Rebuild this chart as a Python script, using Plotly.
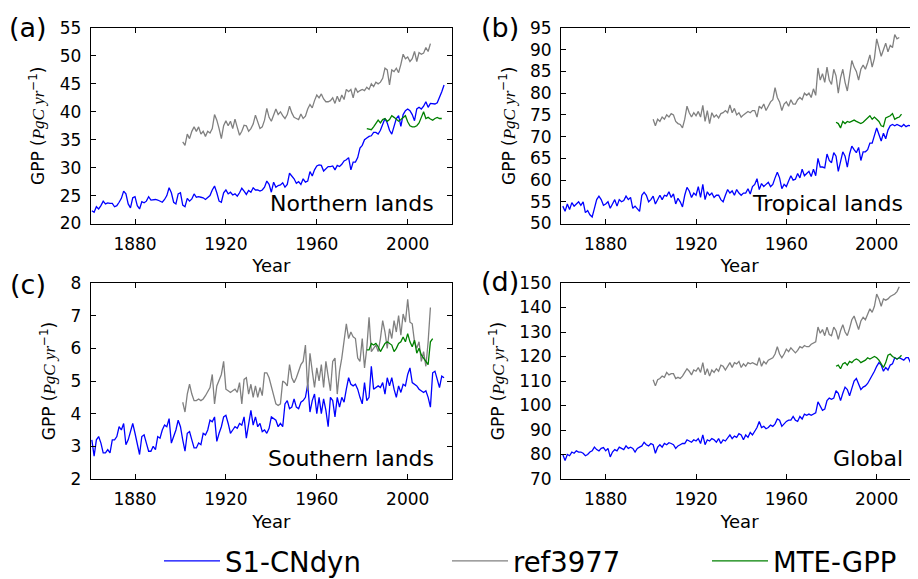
import plotly.graph_objects as go

# ---------------- data ----------------
BLUE_START = 1861
GRAY_START = 1901
GREEN_START = 1982

a_blue = [22.3, 22.0, 23.0, 22.6, 23.2, 24.0, 23.5, 23.7, 23.6, 23.6,
          23.0, 23.2, 23.8, 24.5, 25.8, 25.3, 23.5, 22.8, 24.6, 24.8,
          23.2, 22.6, 23.9, 23.7, 24.0, 24.8, 24.2, 24.3, 24.3, 24.2,
          24.0, 23.8, 24.3, 25.0, 26.4, 25.5, 23.8, 23.5, 25.3, 25.5,
          23.3, 23.0, 24.5, 24.0, 24.4, 25.3, 24.7, 24.8, 24.7, 24.6,
          24.3, 24.6, 25.0, 26.0, 26.7, 25.5, 24.0, 23.8, 25.5, 26.0,
          25.3, 25.6, 25.1, 25.3, 24.9, 25.5, 26.3, 25.8, 25.2, 25.9,
          25.6, 26.4, 26.0, 26.0, 25.8, 26.0, 26.5, 27.6, 27.0, 25.6,
          27.4, 26.5, 26.8, 26.9, 27.3, 26.5, 27.0, 29.0, 28.5, 28.0,
          27.2, 27.5, 27.0, 28.0, 27.4, 27.6, 29.3, 28.5, 29.6, 30.3,
          30.5, 30.4, 29.4, 29.8, 30.2, 30.2, 30.3, 29.6, 30.4, 30.2,
          30.6, 31.2, 31.4, 31.8, 29.6, 31.0, 31.0, 31.8, 33.5, 34.0,
          35.0, 35.3, 35.6, 35.7, 36.3, 36.3, 36.0, 36.7, 37.6, 38.8,
          38.0, 36.7, 36.0, 37.4, 38.8, 39.3, 37.4, 39.5, 40.2, 40.5,
          40.2, 39.5, 38.4, 40.5, 40.8, 40.5, 41.0, 41.8, 40.8, 41.5,
          41.5, 41.4, 41.6, 42.5, 43.6, 44.8]
a_gray = [34.6, 34.0, 36.0, 35.2, 36.5, 37.3, 36.5, 37.3, 36.0, 36.5,
          35.6, 36.5, 36.2, 37.0, 39.5, 38.5, 37.0, 35.2, 37.5, 38.4,
          37.5, 38.3, 37.0, 38.7, 37.2, 35.8, 36.5, 37.6, 37.5, 36.5,
          37.0, 37.8, 39.4, 38.0, 37.0, 37.3, 38.5, 40.6, 39.0, 38.3,
          39.5, 40.5, 39.5, 40.0, 39.3, 38.8, 39.5, 41.0, 39.8, 39.0,
          38.8, 38.6, 39.6, 38.8, 39.2, 40.5, 41.3, 40.7, 42.0, 43.0,
          42.5, 43.2, 42.3, 41.8, 41.8, 42.0, 42.5, 41.5, 42.8, 41.8,
          43.0, 42.2, 44.0, 43.6, 44.0, 42.5, 44.3, 43.5, 43.8, 44.0,
          43.8, 44.4, 44.0, 45.0, 44.5, 45.3, 45.0, 45.3, 46.0, 47.8,
          47.5, 44.8, 47.5, 47.2, 47.8, 47.0, 48.5, 50.3, 49.5, 49.8,
          49.0, 49.5, 50.8, 49.0, 50.6, 50.3, 50.5, 51.5, 50.8, 52.2]
a_green = [37.0, 36.9, 36.8, 37.3, 37.8, 38.5, 38.0, 38.6, 38.8, 38.3,
           38.6, 39.3, 39.0, 38.6, 38.3, 38.6, 38.9, 39.3, 38.2, 37.5,
           37.3, 37.3, 37.5, 38.0, 39.0, 40.0, 38.8, 39.0, 38.7, 38.5,
           38.8, 39.0, 38.8, 38.8]

b_blue = [54.0, 52.8, 54.5, 53.2, 54.8, 54.0, 54.5, 55.0, 54.2, 55.0,
          52.5, 53.0, 52.0, 51.5, 53.5, 55.5, 56.3, 55.5, 54.2, 54.5,
          55.0, 53.5, 54.5, 55.5, 54.0, 55.5, 55.0, 55.3, 56.3, 55.5,
          56.0, 53.5, 54.0, 53.5, 52.8, 56.5, 57.2, 56.5, 55.0, 55.5,
          56.3, 54.5, 55.5, 56.5, 55.5, 56.5, 56.3, 57.3, 56.0, 56.8,
          54.5, 55.8, 55.0, 53.8, 56.5, 58.3, 57.5, 56.0, 57.0, 56.5,
          58.5, 56.0, 59.0, 55.5, 57.3, 56.5, 57.0, 56.0, 56.5, 56.5,
          55.5, 55.0, 56.5, 57.8, 57.0, 57.5, 56.5, 57.8, 57.0, 56.5,
          57.0, 57.0, 58.0, 56.8, 58.5, 59.0, 60.3, 57.8, 59.2, 58.5,
          59.0, 59.5, 58.5, 59.0, 60.5, 61.8, 60.5, 58.0, 59.0, 58.5,
          59.8, 61.0, 60.0, 60.2, 61.5, 60.5, 62.5, 61.0, 61.5, 62.0,
          60.8, 62.5, 61.0, 65.0, 63.0, 63.0, 62.8, 66.0, 64.5, 64.0,
          66.3, 65.5, 62.0, 64.5, 66.5, 65.5, 63.0, 66.0, 67.8, 67.0,
          66.3, 67.5, 64.5, 66.5, 66.5, 67.0, 68.5, 68.5, 70.0, 72.0,
          70.5, 69.0, 70.8, 69.5, 71.5, 72.5, 72.8, 72.5, 72.8, 72.5,
          72.3, 72.8, 72.3, 72.6, 72.5, 69.5, 71.0]
b_gray = [74.0, 72.5, 74.0, 73.5, 74.5, 74.0, 75.0, 74.5, 75.3, 75.0,
          73.5, 73.0, 72.8, 72.0, 74.0, 77.0, 75.5, 74.5, 75.5, 74.8,
          75.8, 74.5, 77.2, 73.5, 76.0, 73.0, 75.5, 74.5, 75.0, 74.3,
          75.3, 75.5, 76.0, 75.5, 77.3, 75.5, 76.5, 75.0, 75.5, 74.5,
          75.0, 75.5, 75.8, 75.5, 76.0, 76.0, 74.5, 77.0, 76.5, 77.5,
          76.0, 77.0, 78.0, 78.5, 81.3, 79.0, 78.0, 76.0, 77.5, 78.0,
          77.0, 78.5, 77.5, 77.5, 78.5, 79.0, 78.5, 80.0, 79.5, 80.0,
          79.0, 81.0, 79.5, 85.8, 83.0, 84.5, 82.5, 86.0, 83.0, 82.0,
          85.5, 84.0, 80.0, 83.5, 85.5, 82.5, 80.5, 84.0, 87.5, 86.0,
          85.0, 83.0, 85.5, 86.5, 85.5, 87.0, 88.8, 86.0, 88.0, 92.5,
          90.5, 88.5, 90.0, 91.5, 89.5, 91.0, 90.5, 93.5, 92.5, 92.8]
b_green = [73.3, 73.0, 72.0, 73.5, 73.0, 73.5, 73.3, 73.5, 73.8, 73.5,
           73.2, 73.0, 73.3, 73.8, 74.2, 74.8, 74.0, 74.5, 74.0, 73.5,
           72.5, 72.3, 74.3, 74.5, 74.8, 75.3, 74.0, 74.3, 74.5, 75.2]

c_blue = [3.2, 2.7, 3.2, 3.3, 3.1, 2.8, 2.8, 2.9, 2.8, 3.2,
          3.2, 3.3, 3.6, 3.5, 3.7, 3.05, 3.2, 3.5, 3.7, 3.4,
          3.1, 2.75, 3.3, 3.35, 3.1, 2.85, 2.85, 3.0, 2.9, 3.3,
          3.25, 3.5, 3.65, 3.6, 3.85, 3.1, 3.3, 3.5, 3.8, 3.6,
          3.2, 2.85, 3.4, 3.45, 3.2, 2.95, 2.95, 3.1, 3.05, 3.4,
          3.35, 3.5, 3.8, 3.75, 3.9, 3.15, 3.4, 3.6, 3.9, 3.95,
          3.7, 3.4, 3.5, 3.6, 3.55, 3.7, 3.65, 3.9, 3.25, 3.7,
          4.1, 3.65, 3.9, 3.6, 3.7, 3.45, 3.5, 3.4, 3.55, 3.9,
          3.85, 3.8, 3.6, 3.7, 3.6, 4.3, 4.4, 4.15, 4.2, 4.45,
          4.2, 4.15, 4.35, 4.4, 4.5, 4.9, 4.05, 4.4, 4.6, 4.0,
          4.5, 4.0, 4.45, 4.1, 3.6, 4.5, 4.4, 3.9, 4.5, 4.2,
          4.5, 4.35, 4.75, 5.1, 4.9, 4.85, 4.9, 4.75, 4.5, 4.3,
          4.95, 4.4, 4.5, 5.45, 4.75, 4.8, 4.85, 4.8, 4.95, 4.6,
          5.1, 4.85, 5.1, 4.75, 4.5, 4.85, 4.65, 4.9, 4.85, 5.2,
          5.4, 4.95, 4.9, 4.85, 4.75, 4.7, 4.65, 4.7, 4.5, 4.2,
          5.25, 5.3, 5.0, 4.8, 5.15, 5.1]
c_gray = [4.35, 4.05, 4.6, 4.9, 4.6, 4.4, 4.4, 4.45, 4.4, 4.45,
          4.55, 4.7, 4.8, 5.2, 4.3, 4.85, 5.0, 5.2, 5.6, 4.75,
          4.7, 4.65, 4.7, 4.75, 4.65, 4.95, 4.3, 5.05, 5.1, 4.6,
          4.9, 4.5, 4.85, 4.5, 4.8, 4.55, 5.25, 5.25, 5.1, 4.8,
          4.5, 4.3, 4.25, 4.3, 5.0, 4.95, 4.85, 5.5, 5.1, 4.95,
          5.1, 5.3, 5.5, 5.6, 6.1, 4.7, 5.85, 5.3, 4.8, 5.4,
          5.0, 5.5, 4.8, 5.6, 5.2, 4.7, 5.6, 5.7, 4.6, 5.3,
          5.7, 6.3, 6.75, 6.3, 6.5, 6.35, 6.3, 5.7, 5.6, 6.3,
          5.4, 6.0, 6.95, 5.9, 6.0, 6.1, 5.9, 6.3, 6.85, 6.5,
          6.0, 6.6, 6.3, 6.85, 6.5, 7.0, 6.4, 7.05, 6.8, 7.5,
          6.8, 6.75, 6.2, 6.0, 6.2, 5.6, 5.9, 5.45, 6.2, 7.25]
c_green = [5.95, 5.95, 6.15, 6.1, 6.15, 6.05, 5.9, 6.05, 6.15, 6.2,
           6.15, 6.1, 5.9, 6.0, 6.15, 6.2, 6.35, 6.2, 6.45, 6.2,
           6.05, 6.25, 5.85, 6.0, 5.8, 5.7, 5.6, 5.5, 6.2, 6.3]

d_blue = [80.0, 77.5, 80.0, 79.5, 81.0, 80.5, 81.5, 81.0, 81.0, 80.5,
          79.5, 80.0, 81.0, 81.5, 83.0, 82.0, 81.5, 82.5, 82.8, 81.5,
          82.5, 79.0, 81.0, 82.0, 81.5, 83.0, 82.5, 82.0, 83.5, 82.5,
          83.0, 82.5, 81.0, 82.5, 83.0, 83.5, 85.0, 84.0, 83.5, 84.5,
          84.0, 80.5, 83.0, 84.0, 83.0, 84.5, 84.0, 84.8, 84.5, 84.0,
          82.5, 83.5, 84.0, 84.5, 84.5, 86.0, 85.5, 85.0, 86.0, 85.5,
          86.5, 84.5, 88.0, 84.0, 86.0, 85.5, 86.5, 86.0, 85.0, 86.5,
          84.5, 86.0, 85.5, 87.0, 88.0, 86.5, 87.5, 87.0, 88.5, 88.0,
          86.0, 88.0, 87.0, 89.0, 88.0, 89.5, 91.0, 93.5, 91.0, 91.5,
          90.5, 91.0, 92.0, 91.5, 92.5, 94.5, 94.0, 91.5, 92.5, 93.5,
          94.0, 94.0, 95.5, 94.0, 93.5, 95.5, 94.5, 96.5, 96.0, 96.5,
          96.0, 96.5, 97.0, 101.5, 99.5, 98.0, 98.5, 102.0, 103.0, 102.5,
          103.0, 106.0, 105.0, 102.0, 105.0, 107.5, 106.5, 104.0, 107.0, 110.0,
          111.0, 109.0, 106.5, 107.5, 108.0, 109.0, 110.5, 112.0, 114.0, 116.0,
          117.5, 116.5, 114.0, 115.5, 114.5, 116.5, 117.0, 119.5, 119.0, 119.5,
          119.0, 118.5, 119.5, 119.5, 117.5, 119.5, 121.0]
d_gray = [110.5, 108.0, 110.5, 111.0, 112.0, 111.5, 113.5, 112.5, 113.0, 113.0,
          111.0, 111.5, 111.0, 112.0, 113.5, 115.0, 114.0, 112.5, 114.5, 114.0,
          115.5, 113.5, 117.5, 112.5, 115.0, 112.0, 114.5, 113.5, 115.0, 114.0,
          116.5, 116.0, 114.5, 116.0, 117.5, 115.5, 117.5, 117.0, 118.0, 115.5,
          117.0, 116.0, 117.5, 117.0, 117.5, 117.0, 116.5, 119.5, 116.0, 118.0,
          117.0, 118.5, 119.0, 119.5, 121.0, 124.0, 121.0, 119.5, 121.0, 123.0,
          122.0, 123.5, 122.5, 121.5, 122.5, 124.0, 123.5, 124.5, 124.0, 124.0,
          125.0, 125.5, 126.0, 132.0, 129.5, 131.0, 128.5, 132.0, 129.0, 128.5,
          132.0, 130.5, 127.0, 130.5, 133.0, 130.0, 128.5, 131.5, 135.0, 136.5,
          133.5, 131.0, 134.5, 136.0, 135.0, 137.5, 139.5, 138.0, 140.5, 145.5,
          143.5, 140.5, 143.5, 143.0, 143.5, 144.5, 145.0, 145.5, 146.5, 148.5]
d_green = [116.0, 116.5, 115.0, 117.0, 117.5, 116.5, 118.0, 117.5, 118.5, 119.0,
           118.5, 117.5, 118.0, 118.5, 119.5, 119.0, 119.5, 120.0, 119.5, 118.5,
           117.0, 115.5, 117.5, 120.5, 121.0, 120.0, 119.5, 119.0, 119.5, 120.5]

series_names = ["S1-CNdyn", "ref3977", "MTE-GPP"]
panel_letters = ["(a)", "(b)", "(c)", "(d)"]
region_names = ["Northern lands", "Tropical lands", "Southern lands", "Global"]
y_ranges = [[20, 55], [50, 95], [2, 8], [70, 150]]
y_dticks = [5, 5, 1, 10]
x_ticks = [1880, 1920, 1960, 2000]

panels = [(a_blue, a_gray, a_green), (b_blue, b_gray, b_green),
          (c_blue, c_gray, c_green), (d_blue, d_gray, d_green)]

# ---------------- layout geometry ----------------
# The page body has an 8 px margin, so the figure is drawn 8 px in from the
# window's top-left corner; size it to the remaining visible area.
OFF = 8
FW, FH = 918 - OFF, 579 - OFF


def px(X):
    return (X - OFF) / FW


def py(Y):
    return 1 - (Y - OFF) / FH


colors = ["#0000ff", "#808080", "#008000"]
starts = [BLUE_START, GRAY_START, GREEN_START]
legend_ids = ["legend", "legend2", "legend3"]
legend_text_x = [225, 513, 773]
ITEMW = 56

x_domains = [[px(90.7), px(452)], [px(561), 1.0], [px(90.7), px(452)], [px(561), 1.0]]
y_domains = [[py(223.5), py(28)], [py(223.5), py(28)], [py(479), py(283)], [py(479), py(283)]]
x_ranges = [[1860.5, 2019.5], [1860.2, 2018.3], [1860.5, 2019.5], [1860.2, 2018.3]]

fig = go.Figure()
for p, trio in enumerate(panels):
    for k, vals in enumerate(trio):
        years = list(range(starts[k], starts[k] + len(vals)))
        fig.add_trace(go.Scatter(
            x=years, y=vals, mode="lines", name=series_names[k],
            line=dict(color=colors[k], width=1.3),
            xaxis="x" if p == 0 else f"x{p+1}",
            yaxis="y" if p == 0 else f"y{p+1}",
            legend=legend_ids[k],
            legendgroup=series_names[k], showlegend=(p == 0),
        ))

FONT = "DejaVu Sans"
ytitle = ("GPP (<span style='font-family:Liberation Serif'><i>PgC yr</i></span>"
          "<sup>−1</sup>)")

layout = dict(
    width=FW, height=FH,
    margin=dict(l=0, r=0, t=0, b=0, autoexpand=False),
    paper_bgcolor="white", plot_bgcolor="white",
    font=dict(family=FONT, color="black"),
    showlegend=True,
)
for k, lid in enumerate(legend_ids):
    layout[lid] = dict(orientation="h", x=px(legend_text_x[k] - ITEMW - 10), xanchor="left",
                       y=py(561), yanchor="middle",
                       font=dict(family=FONT, size=27.5, color="black"),
                       itemwidth=ITEMW, bgcolor="rgba(0,0,0,0)", borderwidth=0)

axis_common = dict(showline=True, linecolor="black", linewidth=1, mirror="allticks",
                   ticks="inside", ticklen=5, tickwidth=1, tickcolor="black",
                   showgrid=False, zeroline=False, automargin=False,
                   tickfont=dict(family=FONT, size=17, color="black"))

annotations = []
for p in range(4):
    xn = "xaxis" if p == 0 else f"xaxis{p+1}"
    yn = "yaxis" if p == 0 else f"yaxis{p+1}"
    ya = "y" if p == 0 else f"y{p+1}"
    xa = "x" if p == 0 else f"x{p+1}"
    layout[xn] = dict(axis_common, domain=x_domains[p], range=x_ranges[p], anchor=ya,
                      tickmode="array", tickvals=x_ticks, ticklabelstandoff=5,
                      title=dict(text="Year", font=dict(family=FONT, size=18), standoff=6))
    layout[yn] = dict(axis_common, domain=y_domains[p], range=y_ranges[p], anchor=xa,
                      dtick=y_dticks[p], tick0=0, ticklabelstandoff=5,
                      title=dict(text=ytitle, font=dict(family=FONT, size=17), standoff=10))

letter_pos = [(28, 27), (500, 27), (28, 284), (500, 281)]
for p, (lx, ly) in enumerate(letter_pos):
    annotations.append(dict(text=panel_letters[p], x=px(lx), y=py(ly), xref="paper", yref="paper",
                            xanchor="center", yanchor="middle", showarrow=False,
                            font=dict(family=FONT, size=27, color="black")))
region_pos = [(436, 203), (905, 203), (436, 458), (905, 458)]
for p, (rx, ry) in enumerate(region_pos):
    annotations.append(dict(text=region_names[p], x=px(rx), y=py(ry), xref="paper", yref="paper",
                            xanchor="right", yanchor="middle", showarrow=False,
                            font=dict(family=FONT, size=22, color="black")))
layout["annotations"] = annotations

fig.update_layout(**layout)
fig.write_html("out.html")
